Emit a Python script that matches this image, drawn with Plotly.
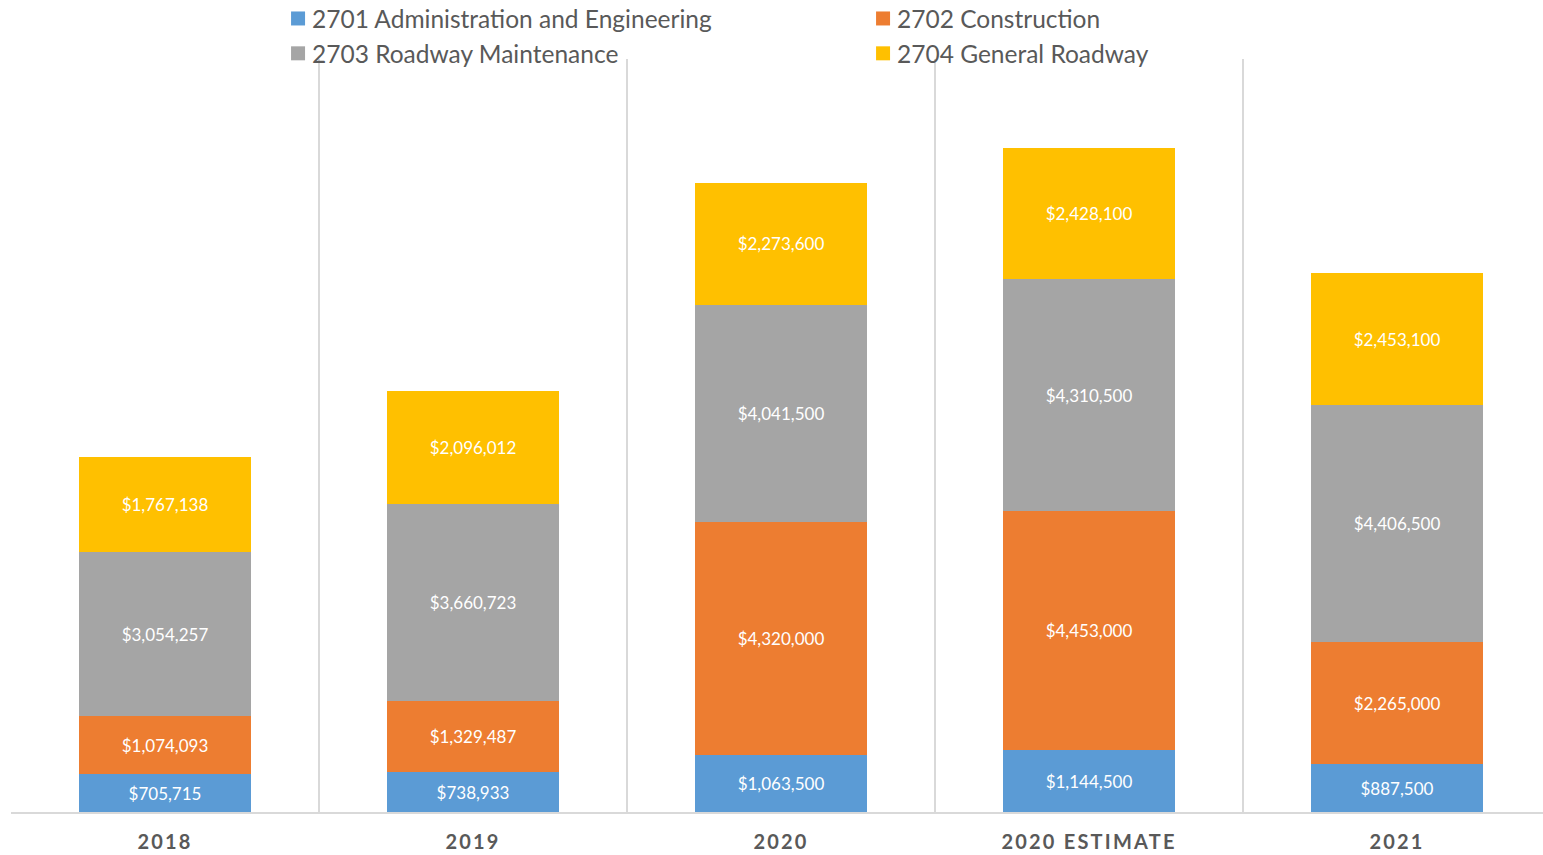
import plotly.graph_objects as go

categories = ["2018", "2019", "2020", "2020 ESTIMATE", "2021"]
admin_eng = [705715, 738933, 1063500, 1144500, 887500]
construction = [1074093, 1329487, 4320000, 4453000, 2265000]
roadway_maint = [3054257, 3660723, 4041500, 4310500, 4406500]
general_roadway = [1767138, 2096012, 2273600, 2428100, 2453100]

series = [
    ("2701 Administration and Engineering", admin_eng, "#5B9BD5"),
    ("2702 Construction", construction, "#ED7D31"),
    ("2703 Roadway Maintenance", roadway_maint, "#A5A5A5"),
    ("2704 General Roadway", general_roadway, "#FFC000"),
]

FONT = "Lato"
fig = go.Figure()
for name, vals, color in series:
    fig.add_trace(go.Bar(
        name=name, x=categories, y=vals,
        marker=dict(color=color, line=dict(width=0)),
        width=0.558,
        texttemplate="$%{y:,.0f}",
        textposition="inside",
        insidetextanchor="middle",
        textangle=0,
        constraintext="none",
        textfont=dict(family=FONT, size=17, color="white"),
        hoverinfo="skip",
    ))

fig.update_layout(
    barmode="stack",
    width=1543, height=855,
    margin=dict(l=11, r=0, t=59, b=43, autoexpand=False),
    paper_bgcolor="white", plot_bgcolor="white",
    font=dict(family=FONT, color="#595959"),
    legend=dict(
        orientation="h", x=0.1704, xanchor="left", y=1.0836, yanchor="top",
        entrywidth=540, entrywidthmode="pixels",
        font=dict(family=FONT, size=24.5, color="#595959"),
        traceorder="normal", itemwidth=30,
        tracegroupgap=0, bgcolor="rgba(0,0,0,0)",
    ),
    xaxis=dict(
        type="category", range=[-0.5, 4.474],
        tickson="boundaries", showgrid=True, gridcolor="#D9D9D9", gridwidth=1.5,
        showline=True, linecolor="#D9D9D9", linewidth=2,
        ticks="", tickfont=dict(family=FONT, size=20, color="#595959", weight="bold"),
        ticklabelstandoff=11, automargin=False,
        zeroline=False,
    ),
    yaxis=dict(
        range=[0, 14000000], showgrid=False, showticklabels=False,
        zeroline=False, showline=False, automargin=False,
    ),
    showlegend=True,
)

post = (
    "document.body.style.margin='0';document.body.style.overflow='hidden';"
    "document.querySelectorAll('.xtick text').forEach(function(t){t.style.letterSpacing='2.2px';});"
    "document.querySelectorAll('.legendpoints path').forEach(function(p){"
    "var tr=p.getAttribute('transform')||'';var m=tr.match(/translate\\(([-\\d.]+)[ ,]*([-\\d.]*)\\)/);"
    "var x=m?parseFloat(m[1]):20;var y=(m&&m[2])?parseFloat(m[2]):0;"
    "p.setAttribute('d','M7,7H-7V-7H7Z');p.setAttribute('transform','translate('+(x+6)+','+y+')');});"
)
fig.write_html("out.html", config={"displayModeBar": False}, post_script=post)
